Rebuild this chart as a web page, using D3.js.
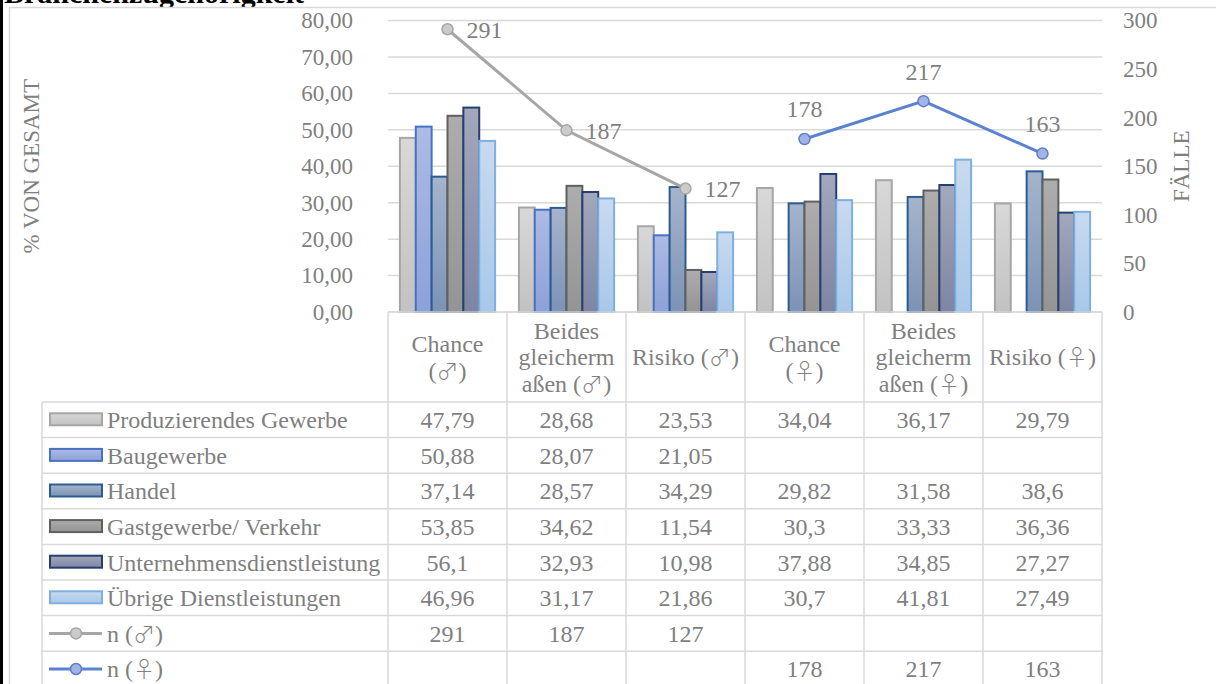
<!DOCTYPE html>
<html lang="de">
<head>
<meta charset="utf-8">
<title>Branchenzugehörigkeit</title>
<script src="https://cdn.jsdelivr.net/npm/d3@7"></script>
<style>
  html, body { margin: 0; padding: 0; background: #fff; }
  svg { display: block; }
  text { font-family: "Liberation Serif", "Times New Roman", "DejaVu Serif", serif; }
  .sym { font-family: "Noto Sans CJK JP", "DejaVu Sans", sans-serif; font-weight: 300; }
</style>
</head>
<body>
<svg id="chart" width="1216" height="684"></svg>
<script>
// ---- data ----
const categories = ["Chance (♂)", "Beides gleichermaßen (♂)", "Risiko (♂)",
                    "Chance (♀)", "Beides gleichermaßen (♀)", "Risiko (♀)"];
const categoryLines = [["Chance", "(♂)"], ["Beides", "gleicherm", "aßen (♂)"], ["Risiko (♂)"],
                       ["Chance", "(♀)"], ["Beides", "gleicherm", "aßen (♀)"], ["Risiko (♀)"]];

const seriesNames = ["Produzierendes Gewerbe", "Baugewerbe", "Handel",
                     "Gastgewerbe/ Verkehr", "Unternehmensdienstleistung", "Übrige Dienstleistungen"];
const produzierend = [47.79, 28.68, 23.53, 34.04, 36.17, 29.79];
const baugewerbe   = [50.88, 28.07, 21.05, null, null, null];
const handel       = [37.14, 28.57, 34.29, 29.82, 31.58, 38.6];
const gastgewerbe  = [53.85, 34.62, 11.54, 30.3, 33.33, 36.36];
const unternehmen  = [56.1, 32.93, 10.98, 37.88, 34.85, 27.27];
const uebrige      = [46.96, 31.17, 21.86, 30.7, 41.81, 27.49];
const barSeries = [produzierend, baugewerbe, handel, gastgewerbe, unternehmen, uebrige];

const lineNames = ["n (♂)", "n (♀)"];
const nMale   = [291, 187, 127, null, null, null];
const nFemale = [null, null, null, 178, 217, 163];

const leftTicks  = [0, 10, 20, 30, 40, 50, 60, 70, 80];
const rightTicks = [0, 50, 100, 150, 200, 250, 300];

// ---- styles ----
const barStyles = [
  { top: "#d8d8d8", bottom: "#c2c2c2", stroke: "#a6a6a6" },
  { top: "#adbbe4", bottom: "#8ca1d9", stroke: "#4a72c4" },
  { top: "#a5b4cc", bottom: "#7c93b6", stroke: "#2c5c8f" },
  { top: "#adadad", bottom: "#949494", stroke: "#606060" },
  { top: "#a3a8bc", bottom: "#7e85a3", stroke: "#263f70" },
  { top: "#c8daef", bottom: "#a8c8ea", stroke: "#7eb0df" }
];
const lineStyles = [
  { line: "#a6a6a6", fill: "#cbcbcb", stroke: "#a6a6a6" },
  { line: "#5b82d0", fill: "#a2b4e4", stroke: "#5a7fcc" }
];
const textColor = "#7f7f7f";
const gridColor = "#d9d9d9";
const fmt = v => String(v).replace(".", ",");

// writes a label into a text/tspan node, setting the gender signs in a font that has them at full size
function richText(sel, str) {
  str.split(/([♂♀])/).filter(p => p.length).forEach(p => {
    const t = sel.append("tspan").text(p);
    if (p === "♂" || p === "♀") t.attr("class", "sym").attr("font-size", "0.92em");
  });
}

const svg = d3.select("#chart");
const defs = svg.append("defs");
barStyles.forEach((s, i) => {
  const g = defs.append("linearGradient").attr("id", "grad" + i)
    .attr("x1", 0).attr("y1", 0).attr("x2", 0).attr("y2", 1);
  g.append("stop").attr("offset", "0%").attr("stop-color", s.top);
  g.append("stop").attr("offset", "100%").attr("stop-color", s.bottom);
});

// ---- page frame and heading ----
svg.append("text").attr("x", 4).attr("y", 3)
  .attr("font-size", 30).attr("font-weight", "bold").attr("fill", "#000")
  .text("Branchenzugehörigkeit");
svg.append("rect").attr("x", 9.5).attr("y", 7.5).attr("width", 1240).attr("height", 700)
  .attr("fill", "#fff").attr("stroke", gridColor).attr("stroke-width", 1.5);
svg.append("line").attr("x1", 1.5).attr("x2", 1.5).attr("y1", 0).attr("y2", 684)
  .attr("stroke", "#000").attr("stroke-width", 3);

// ---- scales ----
const plotLeft = 388, plotRight = 1102, plotTop = 20.5, plotBottom = 312;
const x = d3.scaleBand().domain(categories).range([plotLeft, plotRight]).paddingInner(0).paddingOuter(0);
const xs = d3.scaleBand().domain(seriesNames).range([0, x.bandwidth()]).paddingInner(0).paddingOuter(0.75);
const y = d3.scaleLinear().domain([0, 80]).range([plotBottom, plotTop]);
const y2 = d3.scaleLinear().domain([0, 300]).range([plotBottom, plotTop]);

// ---- gridlines ----
svg.append("g").selectAll("line").data(leftTicks).join("line")
  .attr("x1", plotLeft).attr("x2", plotRight)
  .attr("y1", d => y(d)).attr("y2", d => y(d))
  .attr("stroke", gridColor).attr("stroke-width", 1.5);

// ---- axes ----
const axisL = svg.append("g").attr("transform", `translate(${plotLeft},0)`)
  .call(d3.axisLeft(y).tickValues(leftTicks).tickSize(0).tickPadding(35)
        .tickFormat(d => d3.format(".2f")(d).replace(".", ",")));
const axisR = svg.append("g").attr("transform", `translate(${plotRight},0)`)
  .call(d3.axisRight(y2).tickValues(rightTicks).tickSize(0).tickPadding(21));
[axisL, axisR].forEach(a => {
  a.select(".domain").remove();
  a.selectAll("text").attr("fill", textColor).attr("font-size", 23)
    .attr("font-family", "'Liberation Serif', 'Times New Roman', serif");
});

svg.append("text").attr("transform", `translate(39,${(plotTop + plotBottom) / 2}) rotate(-90)`)
  .attr("text-anchor", "middle").attr("font-size", 23).attr("fill", textColor)
  .text("% VON GESAMT");
svg.append("text").attr("transform", `translate(1189,${(plotTop + plotBottom) / 2}) rotate(-90)`)
  .attr("text-anchor", "middle").attr("font-size", 23).attr("fill", textColor)
  .text("FÄLLE");

// ---- bars ----
const barsG = svg.append("g");
barSeries.forEach((vals, si) => {
  const data = vals.map((v, ci) => ({ v, c: categories[ci] })).filter(d => d.v != null);
  barsG.append("g").selectAll("rect").data(data).join("rect")
    .attr("x", d => x(d.c) + xs(seriesNames[si]))
    .attr("y", d => y(d.v))
    .attr("width", xs.bandwidth())
    .attr("height", d => y(0) - y(d.v))
    .attr("fill", `url(#grad${si})`)
    .attr("stroke", barStyles[si].stroke).attr("stroke-width", 2);
});

// ---- lines (secondary axis) ----
const lineData = [nMale, nFemale];
const cx = c => x(c) + x.bandwidth() / 2;
lineData.forEach((vals, li) => {
  const pts = vals.map((v, ci) => ({ v, c: categories[ci] })).filter(d => d.v != null);
  const st = lineStyles[li];
  svg.append("path").datum(pts)
    .attr("d", d3.line().x(d => cx(d.c)).y(d => y2(d.v)))
    .attr("fill", "none").attr("stroke", st.line).attr("stroke-width", 3);
  svg.append("g").selectAll("circle").data(pts).join("circle")
    .attr("cx", d => cx(d.c)).attr("cy", d => y2(d.v)).attr("r", 5.5)
    .attr("fill", st.fill).attr("stroke", st.stroke).attr("stroke-width", 1.5);
  const lbl = svg.append("g").selectAll("text").data(pts).join("text")
    .attr("font-size", 24).attr("fill", textColor).text(d => d.v);
  if (li === 0) {
    lbl.attr("x", d => cx(d.c) + 19).attr("y", d => y2(d.v)).attr("dy", "0.35em");
  } else {
    lbl.attr("x", d => cx(d.c)).attr("y", d => y2(d.v) - 30).attr("dy", "0.35em")
      .attr("text-anchor", "middle");
  }
});

// ---- data table ----
const headerBottom = 402, rowH = 35.6, legendLeft = 42;
const rows = [
  ...seriesNames.map((name, i) => ({ name, vals: barSeries[i], kind: "bar", i })),
  ...lineNames.map((name, i) => ({ name, vals: lineData[i], kind: "line", i }))
];
const tbl = svg.append("g");
const lineStyle = sel => sel.attr("stroke", gridColor).attr("stroke-width", 1.5);

// header row
categories.forEach((c, ci) => {
  const lines = categoryLines[ci];
  const lh = 26.5, mid = (plotBottom + headerBottom) / 2;
  const t = tbl.append("text").attr("text-anchor", "middle").attr("font-size", 24).attr("fill", textColor);
  lines.forEach((ln, k) => {
    const sp = t.append("tspan").attr("x", cx(c))
      .attr("y", mid + (k - (lines.length - 1) / 2) * lh).attr("dy", "0.35em");
    richText(sp, ln);
  });
});

// grid of the table
const tableBottom = headerBottom + rowH * rows.length;
[plotLeft, ...categories.map(c => x(c) + x.bandwidth())].forEach(xx => {
  tbl.append("line").attr("x1", xx).attr("x2", xx).attr("y1", plotBottom).attr("y2", tableBottom).call(lineStyle);
});
tbl.append("line").attr("x1", legendLeft).attr("x2", legendLeft)
  .attr("y1", headerBottom).attr("y2", tableBottom).call(lineStyle);
tbl.append("line").attr("x1", plotLeft).attr("x2", plotRight)
  .attr("y1", plotBottom).attr("y2", plotBottom).call(lineStyle);
d3.range(rows.length + 1).forEach(k => {
  const yy = headerBottom + k * rowH;
  tbl.append("line").attr("x1", legendLeft).attr("x2", plotRight).attr("y1", yy).attr("y2", yy).call(lineStyle);
});

// rows: legend key, name, values
rows.forEach((r, k) => {
  const cy = headerBottom + (k + 0.5) * rowH;
  if (r.kind === "bar") {
    tbl.append("rect").attr("x", 50).attr("y", cy - 6.5).attr("width", 52).attr("height", 12)
      .attr("fill", `url(#grad${r.i})`).attr("stroke", barStyles[r.i].stroke).attr("stroke-width", 2);
  } else {
    const st = lineStyles[r.i];
    tbl.append("line").attr("x1", 49).attr("x2", 102).attr("y1", cy).attr("y2", cy)
      .attr("stroke", st.line).attr("stroke-width", 3);
    tbl.append("circle").attr("cx", 76).attr("cy", cy).attr("r", 5.5)
      .attr("fill", st.fill).attr("stroke", st.stroke).attr("stroke-width", 1.5);
  }
  const nameText = tbl.append("text").attr("x", 107).attr("y", cy).attr("dy", "0.35em")
    .attr("font-size", 24).attr("fill", textColor);
  richText(nameText, r.name);
  r.vals.forEach((v, ci) => {
    if (v == null) return;
    tbl.append("text").attr("x", cx(categories[ci])).attr("y", cy).attr("dy", "0.35em")
      .attr("text-anchor", "middle").attr("font-size", 24).attr("fill", textColor).text(fmt(v));
  });
});
</script>
</body>
</html>
